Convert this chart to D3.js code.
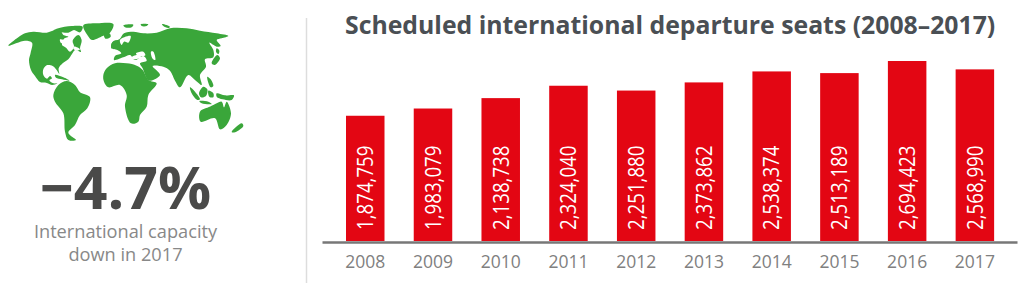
<!DOCTYPE html>
<html>
<head>
<meta charset="utf-8">
<script src="https://cdn.jsdelivr.net/npm/d3@7"></script>
<style>
  html, body { margin: 0; padding: 0; background: #fff; }
  text { font-family: "Open Sans", sans-serif; }
</style>
</head>
<body>
<svg id="chart" width="1024" height="283"></svg>
<script>
// chart data
const years = ["2008", "2009", "2010", "2011", "2012", "2013", "2014", "2015", "2016", "2017"];
const seats = [1874759, 1983079, 2138738, 2324040, 2251880, 2373862, 2538374, 2513189, 2694423, 2568990];

const titleText = "Scheduled international departure seats (2008\u20132017)";
const bigNumber = "\u22124.7%";
const captionLines = ["International capacity", "down in 2017"];

// rough world map outlines, traced on a 3x grid of the picture
const landShapes = [
  // north america
  [[25,137],[55,112],[75,100],[100,95],[140,98],[158,92],[180,90],[190,105],[205,110],[192,116],[186,134],[198,143],[210,155],[222,140],[218,122],[235,105],[245,120],[240,145],[243,156],[226,150],[216,162],[205,178],[188,190],[176,205],[178,222],[170,210],[158,198],[140,196],[130,208],[130,225],[141,236],[150,228],[156,235],[148,241],[160,250],[172,250],[157,255],[138,248],[120,246],[105,228],[93,210],[87,180],[92,158],[96,128],[75,122]],
  // arctic islands
  [[160,92],[175,85],[215,78],[248,80],[240,97],[222,90],[205,98],[180,96]],
  // greenland
  [[250,76],[290,70],[340,72],[330,98],[308,108],[276,120],[264,108]],
  [[312,103],[328,100],[332,110],[316,116]],
  // south america
  [[160,285],[175,255],[200,243],[225,255],[240,277],[270,292],[262,325],[240,345],[225,375],[205,398],[228,420],[205,420],[195,395],[190,340],[165,305]],
  // africa
  [[310,225],[320,205],[345,190],[380,190],[410,197],[428,210],[445,240],[470,250],[445,285],[440,320],[420,345],[415,365],[393,370],[375,320],[380,285],[360,255],[325,262],[312,245]],
  // eurasia
  [[342,180],[345,168],[364,160],[352,150],[334,145],[338,125],[358,118],[372,100],[400,95],[430,100],[470,98],[510,85],[560,85],[600,92],[650,100],[685,108],[665,115],[650,120],[662,138],[650,140],[628,128],[640,150],[640,172],[615,178],[618,200],[600,225],[605,255],[585,240],[565,225],[540,262],[525,242],[510,212],[490,200],[458,198],[480,225],[446,242],[428,205],[420,190],[440,182],[430,168],[405,180],[390,165],[370,172]],
  // britain
  [[335,130],[350,122],[352,140],[335,143]],
  // small northern islands
  [[370,76],[400,74],[395,82],[375,82]],
  [[422,73],[445,73],[440,78],[425,78]],
  [[486,72],[510,80],[505,84],[490,78]],
  // japan
  [[635,190],[652,165],[660,175],[645,195]],
  [[650,145],[658,152],[655,162],[648,155]],
  // philippines
  [[622,230],[632,238],[640,258],[632,262],[625,248]],
  // borneo
  [[597,280],[610,260],[622,268],[618,288],[603,292]],
  // sumatra and java
  [[570,262],[585,275],[600,298],[592,300],[575,280]],
  [[598,303],[625,305],[635,312],[605,310]],
  // sulawesi and new guinea
  [[625,272],[640,280],[640,292],[628,290]],
  [[650,280],[675,286],[702,286],[695,300],[668,298],[650,290]],
  // australia
  [[600,335],[625,322],[640,315],[665,305],[672,322],[680,305],[693,340],[680,375],[660,388],[645,355],[602,365]],
  // new zealand
  [[695,396],[725,370],[730,378],[705,397]]
];
const seaShapes = [
  // black sea, caspian, baltic, mediterranean
  [[408,160],[430,155],[436,166],[415,168]],
  [[453,155],[460,155],[466,180],[458,176]],
  [[360,120],[392,108],[385,128],[372,125],[365,135]],
  [[395,172],[412,165],[425,172],[402,178]],
  // great lakes, hudson coast
  [[180,118],[196,122],[190,130],[182,128]],
  [[222,140],[240,148],[232,152],[220,146]]
];
const cubaShape = [[165,225],[190,232],[208,242],[186,238],[168,233]];

const width = 1024, height = 283;
const baseline = 241, topValue = 61;

const svg = d3.select("#chart");

// ----- left panel -----
const mapScaleX = d3.scaleLinear().domain([0, 930]).range([0, 310]);
const mapScaleY = d3.scaleLinear().domain([0, 450]).range([0, 150]);
const mapLine = d3.line()
  .x(d => mapScaleX(d[0]))
  .y(d => mapScaleY(d[1]))
  .curve(d3.curveCatmullRomClosed.alpha(0.5));

const map = svg.append("g").attr("class", "map");
map.selectAll("path.land")
  .data(landShapes.concat([cubaShape]))
  .join("path")
    .attr("class", "land")
    .attr("d", mapLine)
    .attr("fill", "#3aa63a");
map.selectAll("path.sea")
  .data(seaShapes)
  .join("path")
    .attr("class", "sea")
    .attr("d", mapLine)
    .attr("fill", "#fff");

svg.append("text")
  .attr("x", 125.5)
  .attr("y", 209)
  .attr("text-anchor", "middle")
  .attr("font-size", 59)
  .attr("font-weight", 700)
  .attr("fill", "#4a4a49")
  .text(bigNumber);

svg.selectAll("text.caption")
  .data(captionLines)
  .join("text")
    .attr("class", "caption")
    .attr("x", 125.5)
    .attr("y", (d, i) => 238 + i * 23)
    .attr("text-anchor", "middle")
    .attr("font-size", 18.2)
    .attr("fill", "#888888")
    .text(d => d);

// divider
svg.append("line")
  .attr("x1", 306.5).attr("x2", 306.5)
  .attr("y1", 18).attr("y2", height)
  .attr("stroke", "#dddddd")
  .attr("stroke-width", 1.5);

// ----- bar chart -----
svg.append("text")
  .attr("x", 345)
  .attr("y", 34)
  .attr("font-size", 24.8)
  .attr("font-weight", 700)
  .attr("fill", "#4a4f54")
  .text(titleText);

const x = d3.scaleBand()
  .domain(years)
  .range([322, 1017])
  .paddingInner(0.4316)
  .paddingOuter(0.346)
  .align(0.512);

const y = d3.scaleLinear()
  .domain([0, d3.max(seats)])
  .range([baseline, topValue]);

svg.selectAll("rect.bar")
  .data(years)
  .join("rect")
    .attr("class", "bar")
    .attr("x", d => x(d))
    .attr("y", (d, i) => y(seats[i]))
    .attr("width", x.bandwidth())
    .attr("height", (d, i) => baseline - y(seats[i]))
    .attr("fill", "#e30613");

// the labels in the picture are taller than they are long, hence the scale
svg.selectAll("text.value")
  .data(years)
  .join("text")
    .attr("class", "value")
    .attr("transform", d => "translate(" + (x(d) + x.bandwidth() / 2 + 7.8) + ",230)rotate(-90)scale(1,1.17)")
    .attr("font-size", 18.7)
    .attr("fill", "#ffffff")
    .text((d, i) => d3.format(",")(seats[i]));

const xAxis = svg.append("g")
  .attr("transform", "translate(0," + (baseline + 1) + ")")
  .call(d3.axisBottom(x).tickSize(0).tickPadding(14));
xAxis.select(".domain")
  .attr("stroke", "#777777")
  .attr("stroke-width", 2.5);
xAxis.selectAll("text")
  .style("font-family", "\"Open Sans\", sans-serif")
  .style("font-size", "17.5px")
  .style("fill", "#808080");
</script>
</body>
</html>
